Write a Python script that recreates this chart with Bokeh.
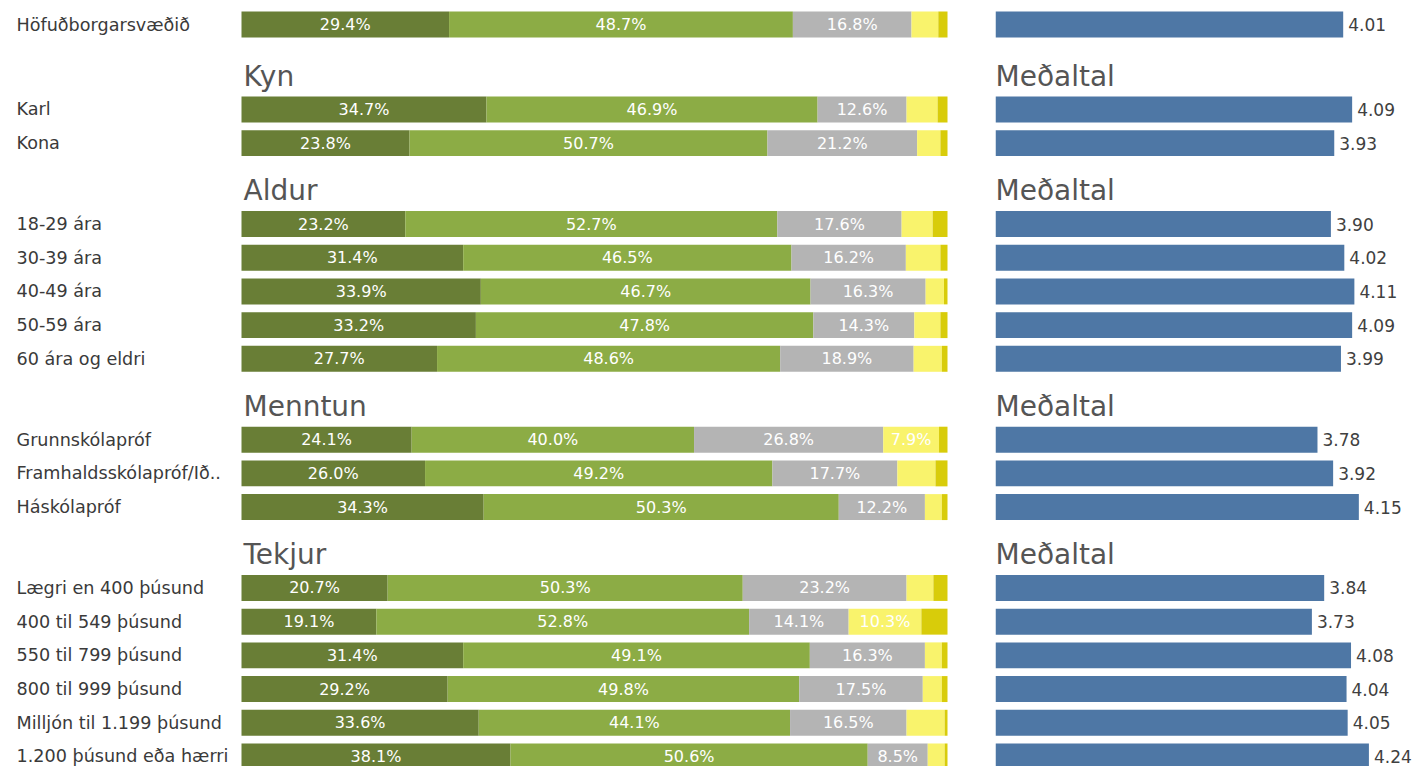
from bokeh.plotting import figure
from bokeh.layouts import row
from bokeh.models import ColumnDataSource, Range1d
from bokeh.core.properties import value
from bokeh.embed import file_html
from bokeh.resources import INLINE

# ---------------- data ----------------
categories = ["Höfuðborgarsvæðið", "Karl", "Kona", "18-29 ára", "30-39 ára", "40-49 ára",
              "50-59 ára", "60 ára og eldri", "Grunnskólapróf", "Framhaldsskólapróf/Ið..",
              "Háskólapróf", "Lægri en 400 þúsund", "400 til 549 þúsund", "550 til 799 þúsund",
              "800 til 999 þúsund", "Milljón til 1.199 þúsund", "1.200 þúsund eða hærri"]
group_of_row = [0, 1, 1, 2, 2, 2, 2, 2, 3, 3, 3, 4, 4, 4, 4, 4, 4]
group_titles = ["", "Kyn", "Aldur", "Menntun", "Tekjur"]
mean_title = "Meðaltal"

s1 = [29.4, 34.7, 23.8, 23.2, 31.4, 33.9, 33.2, 27.7, 24.1, 26.0, 34.3, 20.7, 19.1, 31.4, 29.2, 33.6, 38.1]
s2 = [48.7, 46.9, 50.7, 52.7, 46.5, 46.7, 47.8, 48.6, 40.0, 49.2, 50.3, 50.3, 52.8, 49.1, 49.8, 44.1, 50.6]
s3 = [16.8, 12.6, 21.2, 17.6, 16.2, 16.3, 14.3, 18.9, 26.8, 17.7, 12.2, 23.2, 14.1, 16.3, 17.5, 16.5, 8.5]
s4 = [3.8, 4.4, 3.3, 4.4, 4.9, 2.6, 3.7, 4.0, 7.9, 5.4, 2.4, 3.8, 10.3, 2.4, 2.7, 5.4, 2.4]
s5 = [1.3, 1.4, 1.0, 2.1, 1.0, 0.5, 1.0, 0.8, 1.2, 1.7, 0.8, 2.0, 3.7, 0.8, 0.8, 0.4, 0.4]
means = [4.01, 4.09, 3.93, 3.90, 4.02, 4.11, 4.09, 3.99, 3.78, 3.92, 4.15, 3.84, 3.73, 4.08, 4.04, 4.05, 4.24]

series = [s1, s2, s3, s4, s5]
colors = ["#697E36", "#8CAC45", "#B4B4B4", "#F9F36C", "#D8CC0A"]
blue = "#4E77A5"

# ---------------- layout constants ----------------
FONT = "DejaVu Sans"
H = 766
PITCH = 33.7          # px per row
TOP_PX = 24           # first row center, px from figure top
FIRST_GAP = 2.52
GROUP_GAP = 2.40
BAR_H = 0.77
HEADER_OFF = 0.98     # header center above first row of group, in rows
LABEL_THRESHOLD = 7.0

# row positions
rows_y = []
r = 0.0
for i, g in enumerate(group_of_row):
    if i > 0:
        if g != group_of_row[i - 1]:
            r += FIRST_GAP if group_of_row[i - 1] == 0 else GROUP_GAP
        else:
            r += 1.0
    rows_y.append(r)

y_top = -TOP_PX / PITCH
y_bot = (H - TOP_PX) / PITCH

# ---------------- left figure ----------------
WL = 980
PX_PER_PCT = 7.06
BAR_LEFT_PX = 241
xL0 = -BAR_LEFT_PX / PX_PER_PCT
xL1 = (WL - BAR_LEFT_PX) / PX_PER_PCT

pL = figure(width=WL, height=H, x_range=Range1d(xL0, xL1), y_range=Range1d(y_bot, y_top),
            x_axis_type=None, y_axis_type=None, toolbar_location=None, output_backend="svg",
            min_border=0, outline_line_color=None)
pL.grid.visible = False

lab_x, lab_y, lab_t = [], [], []
for k, s in enumerate(series):
    lefts, rights = [], []
    for i in range(len(categories)):
        left = sum(series[j][i] for j in range(k))
        lefts.append(left)
        rights.append(left + s[i])
        if s[i] >= LABEL_THRESHOLD:
            lab_x.append(left + s[i] / 2)
            lab_y.append(rows_y[i])
            lab_t.append(f"{s[i]:.1f}%")
    src = ColumnDataSource(dict(y=rows_y, left=lefts, right=rights))
    pL.hbar(y="y", left="left", right="right", height=BAR_H, source=src,
            fill_color=colors[k], line_color=None)

pL.text(x=lab_x, y=lab_y, text=lab_t, text_align="center", text_baseline="middle",
        text_color="white", text_font=value(FONT), text_font_size="16px")

pL.text(x=[xL0] * len(categories), y=rows_y, text=categories, x_offset=16,
        text_align="left", text_baseline="middle", text_color="#3A3A3A",
        text_font=value(FONT), text_font_size="17.6px")

hx, hy, ht = [], [], []
for g, title in enumerate(group_titles):
    if not title:
        continue
    first = group_of_row.index(g)
    hx.append(0)
    hy.append(rows_y[first] - HEADER_OFF)
    ht.append(title)
pL.text(x=hx, y=hy, text=ht, x_offset=2, text_align="left", text_baseline="middle",
        text_color="#555555", text_font=value(FONT), text_font_size="28px")

# ---------------- right figure ----------------
WR = 1416 - WL
GAP_R = 15
PX_PER_UNIT = 111.8
xR0 = 0.9
xR1 = xR0 + (WR - GAP_R) / PX_PER_UNIT

pR = figure(width=WR, height=H, x_range=Range1d(xR0, xR1), y_range=Range1d(y_bot, y_top),
            x_axis_type=None, y_axis_type=None, toolbar_location=None, output_backend="svg",
            min_border=0, min_border_left=GAP_R, outline_line_color=None)
pR.grid.visible = False

srcR = ColumnDataSource(dict(y=rows_y, m=means, t=[f"{m:.2f}" for m in means]))
pR.hbar(y="y", left=0, right="m", height=BAR_H, source=srcR, fill_color=blue, line_color=None)
pR.text(x="m", y="y", text="t", source=srcR, x_offset=5, text_align="left",
        text_baseline="middle", text_color="#404040", text_font=value(FONT),
        text_font_size="17px")
pR.text(x=[xR0] * len(hy), y=hy, text=[mean_title] * len(hy), text_align="left",
        text_baseline="middle", text_color="#555555", text_font=value(FONT),
        text_font_size="28px")

layout = row(pL, pR)
open("out.html", "w").write(file_html(layout, INLINE))
